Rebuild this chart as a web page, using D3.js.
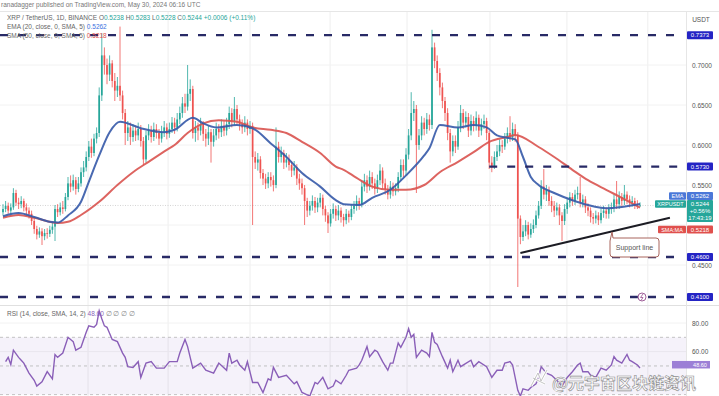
<!DOCTYPE html>
<html lang="en">
<head>
<meta charset="utf-8">
<title>XRP / TetherUS 1D</title>
<script src="https://cdnjs.cloudflare.com/ajax/libs/d3/7.8.5/d3.min.js"></script>
<style>
  body { margin: 0; background: #fff; }
  svg { display: block; font-family: "Liberation Sans", Arial, sans-serif; }
  .axis text { fill: #555; font-size: 6.5px; }
  .axis .domain { display: none; }
</style>
</head>
<body>
<svg id="chart" width="719" height="396"></svg>
<script>
// daily candles, XRP/USDT
var opens = [
0.516,0.520,0.524,0.518,0.522,0.540,0.528,0.526,0.530,0.522,
0.518,0.514,0.505,0.495,0.488,0.492,0.486,0.490,0.489,0.494,
0.498,0.520,0.516,0.522,0.520,0.535,0.552,0.548,0.556,0.545,
0.552,0.566,0.572,0.585,0.598,0.590,0.608,0.615,0.662,0.712,
0.700,0.688,0.702,0.680,0.668,0.674,0.662,0.640,0.615,0.622,
0.610,0.618,0.612,0.620,0.605,0.582,0.612,0.618,0.610,0.620,
0.615,0.608,0.616,0.622,0.614,0.620,0.628,0.622,0.632,0.640,
0.652,0.648,0.664,0.670,0.615,0.622,0.618,0.626,0.614,0.608,
0.616,0.604,0.612,0.620,0.616,0.624,0.618,0.626,0.640,0.630,
0.645,0.632,0.626,0.622,0.628,0.620,0.624,0.585,0.578,0.582,
0.565,0.558,0.552,0.560,0.556,0.550,0.598,0.585,0.590,0.578,
0.582,0.575,0.568,0.572,0.558,0.552,0.546,0.530,0.518,0.524,
0.530,0.522,0.528,0.534,0.520,0.512,0.502,0.514,0.520,0.512,
0.518,0.510,0.506,0.514,0.510,0.520,0.524,0.530,0.526,0.548,
0.556,0.548,0.560,0.552,0.545,0.556,0.568,0.552,0.545,0.538,
0.548,0.542,0.546,0.560,0.575,0.568,0.588,0.612,0.640,0.645,
0.600,0.612,0.628,0.620,0.632,0.625,0.722,0.705,0.690,0.672,
0.655,0.640,0.615,0.592,0.605,0.598,0.622,0.640,0.628,0.635,
0.618,0.630,0.624,0.634,0.618,0.626,0.630,0.615,0.578,0.574,
0.585,0.592,0.600,0.598,0.608,0.615,0.610,0.620,0.612,0.508,
0.485,0.492,0.500,0.488,0.495,0.500,0.512,0.524,0.548,0.538,
0.544,0.530,0.524,0.518,0.522,0.512,0.505,0.520,0.528,0.535,
0.530,0.538,0.540,0.528,0.532,0.522,0.518,0.510,0.508,0.512,
0.506,0.515,0.518,0.514,0.520,0.522,0.532,0.526,0.535,0.530,
0.538,0.532,0.528,0.530,0.526,0.5238];
var highs = [
0.526,0.530,0.528,0.527,0.546,0.544,0.534,0.536,0.533,0.527,
0.522,0.518,0.509,0.499,0.497,0.496,0.495,0.496,0.499,0.504,
0.525,0.526,0.528,0.530,0.540,0.560,0.562,0.563,0.560,0.560,
0.572,0.580,0.592,0.605,0.608,0.614,0.622,0.672,0.740,0.722,
0.708,0.712,0.706,0.690,0.685,0.748,0.668,0.645,0.630,0.628,
0.626,0.624,0.628,0.625,0.610,0.618,0.626,0.624,0.628,0.626,
0.620,0.624,0.630,0.627,0.628,0.635,0.634,0.640,0.648,0.660,
0.664,0.700,0.682,0.674,0.630,0.628,0.634,0.630,0.620,0.624,
0.620,0.620,0.628,0.626,0.632,0.630,0.634,0.648,0.646,0.660,
0.650,0.638,0.632,0.636,0.632,0.630,0.628,0.592,0.590,0.586,
0.570,0.564,0.566,0.566,0.562,0.622,0.604,0.598,0.594,0.590,
0.588,0.580,0.580,0.576,0.564,0.558,0.550,0.534,0.530,0.537,
0.535,0.534,0.540,0.538,0.524,0.516,0.520,0.527,0.524,0.525,
0.522,0.514,0.520,0.518,0.526,0.530,0.537,0.534,0.556,0.564,
0.562,0.568,0.566,0.558,0.563,0.576,0.572,0.558,0.550,0.555,
0.553,0.552,0.566,0.582,0.582,0.596,0.620,0.666,0.655,0.650,
0.620,0.636,0.634,0.640,0.638,0.744,0.728,0.712,0.696,0.678,
0.660,0.646,0.620,0.612,0.612,0.630,0.650,0.645,0.642,0.640,
0.638,0.636,0.642,0.638,0.633,0.638,0.634,0.618,0.586,0.592,
0.600,0.607,0.606,0.615,0.622,0.636,0.628,0.626,0.616,0.512,
0.500,0.506,0.504,0.502,0.507,0.518,0.530,0.556,0.570,0.550,
0.548,0.536,0.530,0.528,0.526,0.516,0.526,0.534,0.541,0.540,
0.544,0.548,0.560,0.538,0.536,0.527,0.522,0.515,0.518,0.516,
0.521,0.524,0.522,0.526,0.528,0.538,0.555,0.542,0.540,0.550,
0.542,0.537,0.536,0.534,0.531,0.5283];
var lows = [
0.512,0.516,0.514,0.513,0.519,0.524,0.520,0.521,0.517,0.512,
0.508,0.500,0.489,0.482,0.484,0.475,0.481,0.483,0.485,0.489,
0.480,0.510,0.512,0.514,0.517,0.531,0.541,0.543,0.538,0.541,
0.548,0.560,0.567,0.580,0.584,0.586,0.602,0.610,0.655,0.688,
0.676,0.680,0.672,0.655,0.660,0.655,0.632,0.600,0.605,0.600,
0.604,0.605,0.606,0.598,0.575,0.578,0.606,0.603,0.605,0.608,
0.600,0.603,0.610,0.607,0.609,0.615,0.614,0.617,0.626,0.634,
0.640,0.643,0.655,0.608,0.604,0.606,0.612,0.605,0.598,0.600,
0.578,0.598,0.606,0.608,0.610,0.611,0.612,0.620,0.622,0.625,
0.626,0.618,0.614,0.616,0.612,0.614,0.500,0.570,0.568,0.558,
0.550,0.545,0.546,0.548,0.542,0.546,0.578,0.578,0.570,0.572,
0.568,0.560,0.562,0.550,0.544,0.538,0.500,0.510,0.512,0.518,
0.515,0.516,0.522,0.512,0.504,0.490,0.498,0.508,0.505,0.506,
0.503,0.498,0.501,0.503,0.506,0.514,0.518,0.519,0.522,0.542,
0.540,0.543,0.545,0.538,0.540,0.550,0.545,0.538,0.532,0.533,
0.536,0.537,0.541,0.555,0.560,0.562,0.582,0.606,0.630,0.540,
0.594,0.606,0.612,0.614,0.618,0.620,0.696,0.680,0.662,0.646,
0.630,0.606,0.578,0.586,0.590,0.594,0.616,0.620,0.622,0.610,
0.612,0.617,0.618,0.610,0.612,0.620,0.606,0.570,0.566,0.570,
0.580,0.586,0.590,0.594,0.602,0.604,0.605,0.604,0.4225,0.476,
0.480,0.486,0.482,0.484,0.490,0.496,0.508,0.520,0.532,0.530,
0.524,0.516,0.510,0.512,0.500,0.480,0.500,0.514,0.522,0.524,
0.525,0.532,0.522,0.522,0.515,0.511,0.503,0.501,0.502,0.500,
0.502,0.509,0.508,0.508,0.514,0.516,0.520,0.520,0.524,0.525,
0.526,0.522,0.523,0.520,0.520,0.5228];
var closes = [
0.520,0.524,0.518,0.522,0.540,0.528,0.526,0.530,0.522,0.518,
0.514,0.505,0.495,0.488,0.492,0.486,0.490,0.489,0.494,0.498,
0.520,0.516,0.522,0.520,0.535,0.552,0.548,0.556,0.545,0.552,
0.566,0.572,0.585,0.598,0.590,0.608,0.615,0.662,0.712,0.700,
0.688,0.702,0.680,0.668,0.674,0.662,0.640,0.615,0.622,0.610,
0.618,0.612,0.620,0.605,0.582,0.612,0.618,0.610,0.620,0.615,
0.608,0.616,0.622,0.614,0.620,0.628,0.622,0.632,0.640,0.652,
0.648,0.664,0.670,0.615,0.622,0.618,0.626,0.614,0.608,0.616,
0.604,0.612,0.620,0.616,0.624,0.618,0.626,0.640,0.630,0.645,
0.632,0.626,0.622,0.628,0.620,0.624,0.585,0.578,0.582,0.565,
0.558,0.552,0.560,0.556,0.550,0.598,0.585,0.590,0.578,0.582,
0.575,0.568,0.572,0.558,0.552,0.546,0.530,0.518,0.524,0.530,
0.522,0.528,0.534,0.520,0.512,0.502,0.514,0.520,0.512,0.518,
0.510,0.506,0.514,0.510,0.520,0.524,0.530,0.526,0.548,0.556,
0.548,0.560,0.552,0.545,0.556,0.568,0.552,0.545,0.538,0.548,
0.542,0.546,0.560,0.575,0.568,0.588,0.612,0.640,0.645,0.600,
0.612,0.628,0.620,0.632,0.625,0.722,0.705,0.690,0.672,0.655,
0.640,0.615,0.592,0.605,0.598,0.622,0.640,0.628,0.635,0.618,
0.630,0.624,0.634,0.618,0.626,0.630,0.615,0.578,0.574,0.585,
0.592,0.600,0.598,0.608,0.615,0.610,0.620,0.612,0.508,0.485,
0.492,0.500,0.488,0.495,0.500,0.512,0.524,0.548,0.538,0.544,
0.530,0.524,0.518,0.522,0.512,0.505,0.520,0.528,0.535,0.530,
0.538,0.540,0.528,0.532,0.522,0.518,0.510,0.508,0.512,0.506,
0.515,0.518,0.514,0.520,0.522,0.532,0.526,0.535,0.530,0.538,
0.532,0.528,0.530,0.526,0.525,0.5244];

// EMA 20 and SMA 50, read at candle indices
var emaIdx = [0,6,12,18,21,25,30,33,37,41,45,53,62,66,73,77,82,90,96,103,109,115,122,128,131,137,142,149,155,162,164,168,175,181,186,190,194,197,200,203,206,212,219,225,232,238,245];
var emaVals = [0.511,0.515,0.510,0.504,0.503,0.512,0.529,0.554,0.587,0.616,0.629,0.621,0.616,0.619,0.634,0.627,0.622,0.625,0.621,0.602,0.585,0.565,0.548,0.531,0.526,0.525,0.534,0.544,0.562,0.587,0.596,0.625,0.622,0.625,0.622,0.612,0.609,0.607,0.585,0.560,0.550,0.540,0.531,0.525,0.521,0.5225,0.5262];
var smaIdx = [0,6,12,21,25,30,37,44,50,56,63,66,71,77,83,90,96,103,109,115,122,128,131,136,142,149,155,162,168,175,181,187,194,197,206,212,219,225,232,238,245];
var smaVals = [0.509,0.5125,0.509,0.5025,0.504,0.5125,0.529,0.550,0.566,0.579,0.594,0.600,0.615,0.627,0.631,0.629,0.622,0.619,0.615,0.604,0.590,0.573,0.569,0.559,0.548,0.544,0.544,0.550,0.566,0.579,0.591,0.604,0.610,0.6125,0.5975,0.585,0.569,0.556,0.544,0.534,0.5218];

// RSI 14
var rsiIdx = [1,2,3,4,6,7,8,10,12,13,15,17,19,20,21,23,25,27,28,30,32,33,35,36,37,38,39,40,42,44,46,47,48,50,52,53,55,57,59,62,64,67,68,70,71,73,76,78,81,83,86,87,88,90,91,93,94,96,98,100,102,103,104,106,109,112,113,115,118,120,121,123,125,127,128,130,132,133,136,137,138,140,141,143,144,146,148,149,150,152,153,155,156,157,158,159,161,163,164,165,166,167,169,171,172,173,175,176,180,181,183,186,188,190,192,193,195,196,198,199,200,202,203,205,206,207,209,211,213,215,217,219,221,222,223,225,226,228,230,232,234,235,236,238,240,241,242,244,245];
var rsiVals = [53,56,51,61,56,54,52,45,40,36,39,46,41,58,56,59,70,67,61,63,73.5,78,77,79,88.5,83,78,77,68.5,67,59,56,49.5,49,53,42,52,53,48.5,48.5,53,53,59,68.5,63.5,48.5,52,47,45,52,47,59,52,54,50.7,47,53,38.5,38.5,31.5,41,40,49,42,43.5,37.5,39,31.5,29,38.5,37.5,42,34,36,40,37.5,43.5,47,48.5,50.7,54,63.5,56.5,61,60,53,47,52,52,66,63,70,76,70,72,56,61,59,56.5,73.5,66.5,65,56.5,48.5,54,46,54,49.5,54,49.5,53,49.5,42,47,47,52,53,50.7,33,29,34,33,35,37.5,42,49.5,45,43.5,40,36,42,46,50.7,52,46,46,43.5,42,48.5,47,50.7,56.5,54,52,58,54,53,50.7,48.6];

var priceTicks = [0.45, 0.55, 0.60, 0.65, 0.70];
var gridTicks = [0.45, 0.50, 0.55, 0.60, 0.65, 0.70];
var rsiTicks = [60, 80];
var monthIdx = [32.7, 63.5, 95, 125.8, 155.4, 187.3, 216.9, 248];
var levelVals = [0.7373, 0.5730, 0.4600, 0.4100];
var levelFrom = [-2, 187, -2, -2];
var supportIdx = [199, 256.5];
var supportVals = [0.465, 0.509];
var lastPrice = 0.5244;

var svg = d3.select("#chart");
var plotRight = 686;
var up = "#26a69a", down = "#ef5350";

var x = d3.scaleLinear().domain([0, 245]).range([3, 640]);
var y = d3.scaleLinear().domain([0.45, 0.70]).range([265, 65]);
var yr = d3.scaleLinear().domain([30, 80]).range([394.6, 323]);

var defs = svg.append("defs");
defs.append("clipPath").attr("id", "clipP").append("rect")
  .attr("x", 0).attr("y", 12).attr("width", plotRight).attr("height", 292);
defs.append("clipPath").attr("id", "clipR").append("rect")
  .attr("x", 0).attr("y", 306).attr("width", plotRight).attr("height", 90);

// grid
svg.append("g").selectAll("line").data(monthIdx).enter().append("line")
  .attr("x1", d => x(d)).attr("x2", d => x(d)).attr("y1", 12).attr("y2", 396)
  .attr("stroke", "#eeeeee").attr("stroke-width", 1);
svg.append("g").selectAll("line").data(gridTicks).enter().append("line")
  .attr("x1", 0).attr("x2", plotRight).attr("y1", d => y(d)).attr("y2", d => y(d))
  .attr("stroke", "#f2f2f2").attr("stroke-width", 1);
svg.append("g").selectAll("line").data(rsiTicks).enter().append("line")
  .attr("x1", 0).attr("x2", plotRight).attr("y1", d => yr(d)).attr("y2", d => yr(d))
  .attr("stroke", "#f2f2f2").attr("stroke-width", 1);

// pane separators
svg.append("line").attr("x1", 0).attr("x2", 719).attr("y1", 11.5).attr("y2", 11.5).attr("stroke", "#e6e6e6");
svg.append("line").attr("x1", 0).attr("x2", 719).attr("y1", 305.5).attr("y2", 305.5).attr("stroke", "#e0e0e0");
svg.append("line").attr("x1", plotRight + 0.5).attr("x2", plotRight + 0.5).attr("y1", 12).attr("y2", 396).attr("stroke", "#e6e6e6");

// current price line
svg.append("line").attr("x1", 0).attr("x2", plotRight).attr("y1", y(lastPrice)).attr("y2", y(lastPrice))
  .attr("stroke", "#c9c9c9").attr("stroke-width", 0.8).attr("stroke-dasharray", "1,1.5");

var pane = svg.append("g").attr("clip-path", "url(#clipP)");

// candles
var idx = d3.range(closes.length);
pane.append("g").selectAll("line").data(idx).enter().append("line")
  .attr("x1", i => x(i)).attr("x2", i => x(i))
  .attr("y1", i => y(highs[i])).attr("y2", i => y(lows[i]))
  .attr("stroke", i => closes[i] >= opens[i] ? up : down)
  .attr("stroke-width", 0.8);
pane.append("g").selectAll("rect").data(idx).enter().append("rect")
  .attr("x", i => x(i) - 0.85).attr("width", 1.7)
  .attr("y", i => y(Math.max(opens[i], closes[i])))
  .attr("height", i => Math.max(0.8, Math.abs(y(opens[i]) - y(closes[i]))))
  .attr("fill", i => closes[i] >= opens[i] ? up : down);

// moving averages
var maLine = d3.line().x(d => x(d[0])).y(d => y(d[1])).curve(d3.curveMonotoneX);
pane.append("path").datum(d3.zip(smaIdx, smaVals)).attr("d", maLine)
  .attr("fill", "none").attr("stroke", "#d9534f").attr("stroke-width", 2).attr("opacity", 0.9);
pane.append("path").datum(d3.zip(emaIdx, emaVals)).attr("d", maLine)
  .attr("fill", "none").attr("stroke", "#3559a8").attr("stroke-width", 2).attr("opacity", 0.9);

// horizontal levels
svg.append("g").selectAll("line").data(levelVals).enter().append("line")
  .attr("x1", (d, k) => Math.max(0, x(levelFrom[k]))).attr("x2", plotRight - 6)
  .attr("y1", d => y(d)).attr("y2", d => y(d))
  .attr("stroke", "#282a66").attr("stroke-width", 2.4).attr("stroke-dasharray", "8,10");

// support trendline
pane.append("line")
  .attr("x1", x(supportIdx[0])).attr("y1", y(supportVals[0]))
  .attr("x2", x(supportIdx[1])).attr("y2", y(supportVals[1]))
  .attr("stroke", "#1c1c24").attr("stroke-width", 2);

// callout
var cb = svg.append("g");
cb.append("path")
  .attr("d", "M612,232 L613,238 L656,238 Q659,238 659,241 L659,254 Q659,257 656,257 L613,257 Q610,257 610,254 L610,241 Z")
  .attr("fill", "#fff").attr("stroke", "#a8645c").attr("stroke-width", 1);
cb.append("text").attr("x", 634.5).attr("y", 249.8).attr("text-anchor", "middle")
  .attr("font-size", 7).attr("fill", "#555").text("Support line");

// small icon on 0.41 line
svg.append("circle").attr("cx", 642).attr("cy", y(0.41)).attr("r", 4)
  .attr("fill", "#fff").attr("stroke", "#a0609a").attr("stroke-width", 1);
svg.append("path").attr("d", "M643,294 L640.5,297.5 L643,297.5 L641,300.5")
  .attr("fill", "none").attr("stroke", "#a0609a").attr("stroke-width", 0.9);

// price axis
svg.append("g").attr("class", "axis").attr("transform", "translate(" + (plotRight + 4) + ",0)")
  .call(d3.axisRight(y).tickValues(priceTicks).tickSize(0).tickPadding(2).tickFormat(d3.format(".4f")));
svg.append("text").attr("x", 701).attr("y", 22).attr("text-anchor", "middle")
  .attr("font-size", 6.5).attr("fill", "#555").text("USDT");

function tag(yc, txt, fill, h, lines) {
  var g = svg.append("g");
  g.append("rect").attr("x", plotRight + 1).attr("y", yc - h / 2).attr("width", 26).attr("height", h)
    .attr("fill", fill).attr("rx", 1);
  (lines || [txt]).forEach(function (t, k) {
    g.append("text").attr("x", plotRight + 14).attr("y", yc - h / 2 + 6 + k * 7)
      .attr("text-anchor", "middle").attr("font-size", 6).attr("fill", "#fff").text(t);
  });
}
function nameTag(yc, txt, fill, w) {
  svg.append("rect").attr("x", plotRight - w).attr("y", yc - 3.8).attr("width", w).attr("height", 7.6)
    .attr("fill", fill).attr("rx", 1);
  svg.append("text").attr("x", plotRight - w / 2).attr("y", yc + 2.1).attr("text-anchor", "middle")
    .attr("font-size", 5.5).attr("fill", "#fff").text(txt);
}

levelVals.forEach(function (v) { tag(y(v), v.toFixed(4), "#2424c4", 8); });
nameTag(196, "EMA", "#4b78d8", 17);
tag(196, "0.5262", "#4b78d8", 8);
nameTag(204, "XRPUSDT", "#26a69a", 31);
tag(211, "", "#26a69a", 22, ["0.5244", "+0.56%", "17:43:19"]);
nameTag(229.5, "SMA:MA", "#e0504d", 28);
tag(229.5, "0.5218", "#e0504d", 8);

// RSI pane
svg.append("rect").attr("x", 0).attr("y", yr(70)).attr("width", plotRight).attr("height", yr(30) - yr(70))
  .attr("fill", "#7e57c2").attr("opacity", 0.08);
svg.append("g").selectAll("line").data([70, 50, 30]).enter().append("line")
  .attr("x1", 0).attr("x2", plotRight).attr("y1", d => yr(d)).attr("y2", d => yr(d))
  .attr("stroke", "#b5b5b5").attr("stroke-width", 0.8).attr("stroke-dasharray", "3,3");
svg.append("g").attr("clip-path", "url(#clipR)").append("path")
  .datum(d3.zip(rsiIdx, rsiVals))
  .attr("d", d3.line().x(d => x(d[0])).y(d => yr(d[1])))
  .attr("fill", "none").attr("stroke", "#8a5fb8").attr("stroke-width", 1.4);
svg.append("g").attr("class", "axis").attr("transform", "translate(" + (plotRight + 4) + ",0)")
  .call(d3.axisRight(yr).tickValues(rsiTicks).tickSize(0).tickPadding(2).tickFormat(d3.format(".2f")));
var rsiTagY = yr(48.6) - 3;
svg.append("rect").attr("x", 672).attr("y", rsiTagY - 4).attr("width", 11).attr("height", 7.5).attr("fill", "#9c7fd6");
svg.append("rect").attr("x", plotRight - 3).attr("y", rsiTagY - 4).attr("width", 27).attr("height", 7.5).attr("fill", "#9c7fd6");
svg.append("text").attr("x", 700).attr("y", rsiTagY + 1.8).attr("text-anchor", "middle")
  .attr("font-size", 5.5).attr("fill", "#fff").text("48.60");

// legends
var lg = svg.append("g").attr("font-size", 6.5).attr("fill", "#666");
lg.append("text").attr("x", 1).attr("y", 7).attr("fill", "#777")
  .text("ranadagger published on TradingView.com, May 30, 2024 06:16 UTC");
var t2 = lg.append("text").attr("x", 7).attr("y", 20);
t2.append("tspan").text("XRP / TetherUS, 1D, BINANCE  ");
[["O", "0.5238"], ["H", "0.5283"], ["L", "0.5228"], ["C", "0.5244"]].forEach(function (p) {
  t2.append("tspan").text(" " + p[0]);
  t2.append("tspan").attr("fill", up).text(p[1]);
});
t2.append("tspan").attr("fill", up).text("  +0.0006 (+0.11%)");
var t3 = lg.append("text").attr("x", 7).attr("y", 29);
t3.append("tspan").text("EMA (20, close, 0, SMA, 5)  ");
t3.append("tspan").attr("fill", "#3b6fe0").text("0.5262");
var t4 = lg.append("text").attr("x", 7).attr("y", 38);
t4.append("tspan").text("SMA (50, close, 0, SMA, 5)  ");
t4.append("tspan").attr("fill", "#e0504d").text("0.5218");
var t5 = lg.append("text").attr("x", 7).attr("y", 316);
t5.append("tspan").text("RSI (14, close, SMA, 14, 2)  ");
t5.append("tspan").attr("fill", "#8a5fb8").text("48.60");
t5.append("tspan").attr("fill", "#888").text("   \u2205   \u2205   \u2205   \u2205");

// watermark
var wm = svg.append("g").attr("opacity", 0.95);
wm.append("path").attr("d", "M531,386 L538,373 L541,381 L547,370 M533,378 L545,384")
  .attr("fill", "none").attr("stroke", "#fff").attr("stroke-width", 3);
wm.append("path").attr("d", "M531,386 L538,373 L541,381 L547,370 M533,378 L545,384")
  .attr("fill", "none").attr("stroke", "#999").attr("stroke-width", 0.6);
wm.append("text").attr("x", 552).attr("y", 389)
  .attr("font-family", "'Noto Sans CJK SC', sans-serif").attr("font-size", 16).attr("font-weight", "bold")
  .attr("fill", "#fff").attr("stroke", "#8a8a8a").attr("stroke-width", 0.6)
  .text("@元宇宙区块链资讯");
</script>
</body>
</html>
